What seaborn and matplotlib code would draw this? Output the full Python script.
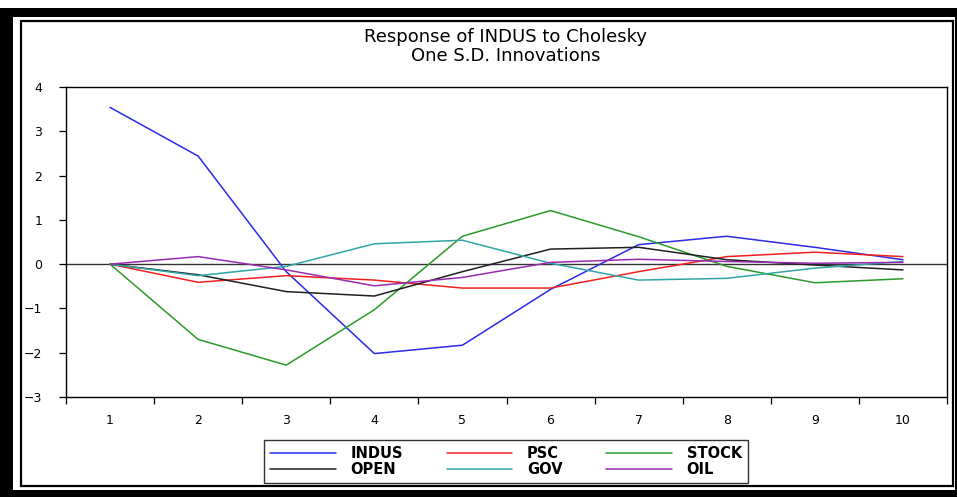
import pandas as pd
import matplotlib.pyplot as plt
import seaborn as sns
from matplotlib.patches import Rectangle

# impulse responses
periods = [1, 2, 3, 4, 5, 6, 7, 8, 9, 10]
indus = [3.54, 2.44, -0.17, -2.02, -1.83, -0.57, 0.44, 0.63, 0.38, 0.10]
psc = [0.0, -0.41, -0.26, -0.36, -0.54, -0.54, -0.17, 0.17, 0.27, 0.17]
stock = [0.0, -1.70, -2.28, -1.03, 0.63, 1.21, 0.62, -0.05, -0.42, -0.33]
open_ = [0.0, -0.24, -0.62, -0.72, -0.17, 0.34, 0.38, 0.10, -0.02, -0.13]
gov = [0.0, -0.26, -0.05, 0.46, 0.54, 0.02, -0.36, -0.32, -0.09, 0.06]
oil = [0.0, 0.17, -0.13, -0.49, -0.30, 0.04, 0.11, 0.06, 0.02, 0.04]

series_names = ["INDUS", "PSC", "STOCK", "OPEN", "GOV", "OIL"]
colors = ["#2a2ae8", "#f02020", "#2a9a2a", "#202020", "#30a5a5", "#9a2ab0"]

df = pd.DataFrame({"period": periods, "INDUS": indus, "PSC": psc, "STOCK": stock,
                   "OPEN": open_, "GOV": gov, "OIL": oil})
long_df = df.melt(id_vars="period", var_name="series", value_name="response")

sns.set_style("white")
plt.rcParams['font.family'] = ['DejaVu Sans']
plt.rcParams['text.color'] = 'black'
plt.rcParams['xtick.color'] = 'black'
plt.rcParams['ytick.color'] = 'black'

W, H = 957, 497
fig = plt.figure(figsize=(W / 100, H / 100), dpi=100)
fig.patch.set_facecolor("white")


def px_rect(x0, y0, x1, y1, **kw):
    # rectangle given in image pixels (origin top-left)
    r = Rectangle((x0 / W, 1 - y1 / H), (x1 - x0) / W, (y1 - y0) / H,
                  transform=fig.transFigure, **kw)
    fig.add_artist(r)


# page border: thick black outside, thin line inside
px_rect(0, 8, 13, 497, facecolor="black", edgecolor="none")
px_rect(0, 8, 957, 17, facecolor="black", edgecolor="none")
px_rect(955, 8, 957, 497, facecolor="black", edgecolor="none")
px_rect(0, 490, 957, 497, facecolor="black", edgecolor="none")
px_rect(21, 21, 953, 486, facecolor="none", edgecolor="black", linewidth=1.6)

ax = fig.add_axes([66 / W, 1 - 397 / H, (947 - 66) / W, (397 - 87) / H])

sns.lineplot(data=long_df, x="period", y="response", hue="series",
             hue_order=series_names, palette=colors, linewidth=1.1,
             legend=False, ax=ax)
ax.axhline(0, color="#333333", linewidth=1.0, zorder=1)

ax.set_xlim(0.5, 10.5)
ax.set_ylim(-3, 4)
ax.set_yticks(range(-3, 5))
ax.set_xticks(periods)
ax.set_xticks([p + 0.5 for p in [0] + periods], minor=True)
ax.tick_params(axis="x", which="major", length=0, pad=12, labelsize=9)
ax.tick_params(axis="x", which="minor", length=5, width=0.9, direction="out", bottom=True)
ax.tick_params(axis="y", length=5, width=0.9, direction="out", left=True, pad=12, labelsize=9)
ax.set_xlabel("")
ax.set_ylabel("")
for s in ax.spines.values():
    s.set_color("black")
    s.set_linewidth(1.0)

fig.text(506 / W, 1 - 37 / H, "Response of INDUS to Cholesky", ha="center", va="center",
         fontsize=13)
fig.text(506 / W, 1 - 56 / H, "One S.D. Innovations", ha="center", va="center",
         fontsize=13)

# legend, filled row by row like the original
handles = [plt.Line2D([], [], color=c, linewidth=1.1) for c in colors]
order = [0, 3, 1, 4, 2, 5]
leg = fig.legend([handles[i] for i in order], [series_names[i] for i in order],
                 ncol=3, loc="center", bbox_to_anchor=(506 / W, 1 - 461.5 / H),
                 handlelength=4.5, handletextpad=1.0, columnspacing=3.0,
                 labelspacing=0.05, borderpad=0.4, borderaxespad=0, frameon=True,
                 fancybox=False, edgecolor="black", prop={"weight": "bold", "size": 10.5})
leg.get_frame().set_linewidth(1.0)

plt.savefig("out.png", dpi=100)
